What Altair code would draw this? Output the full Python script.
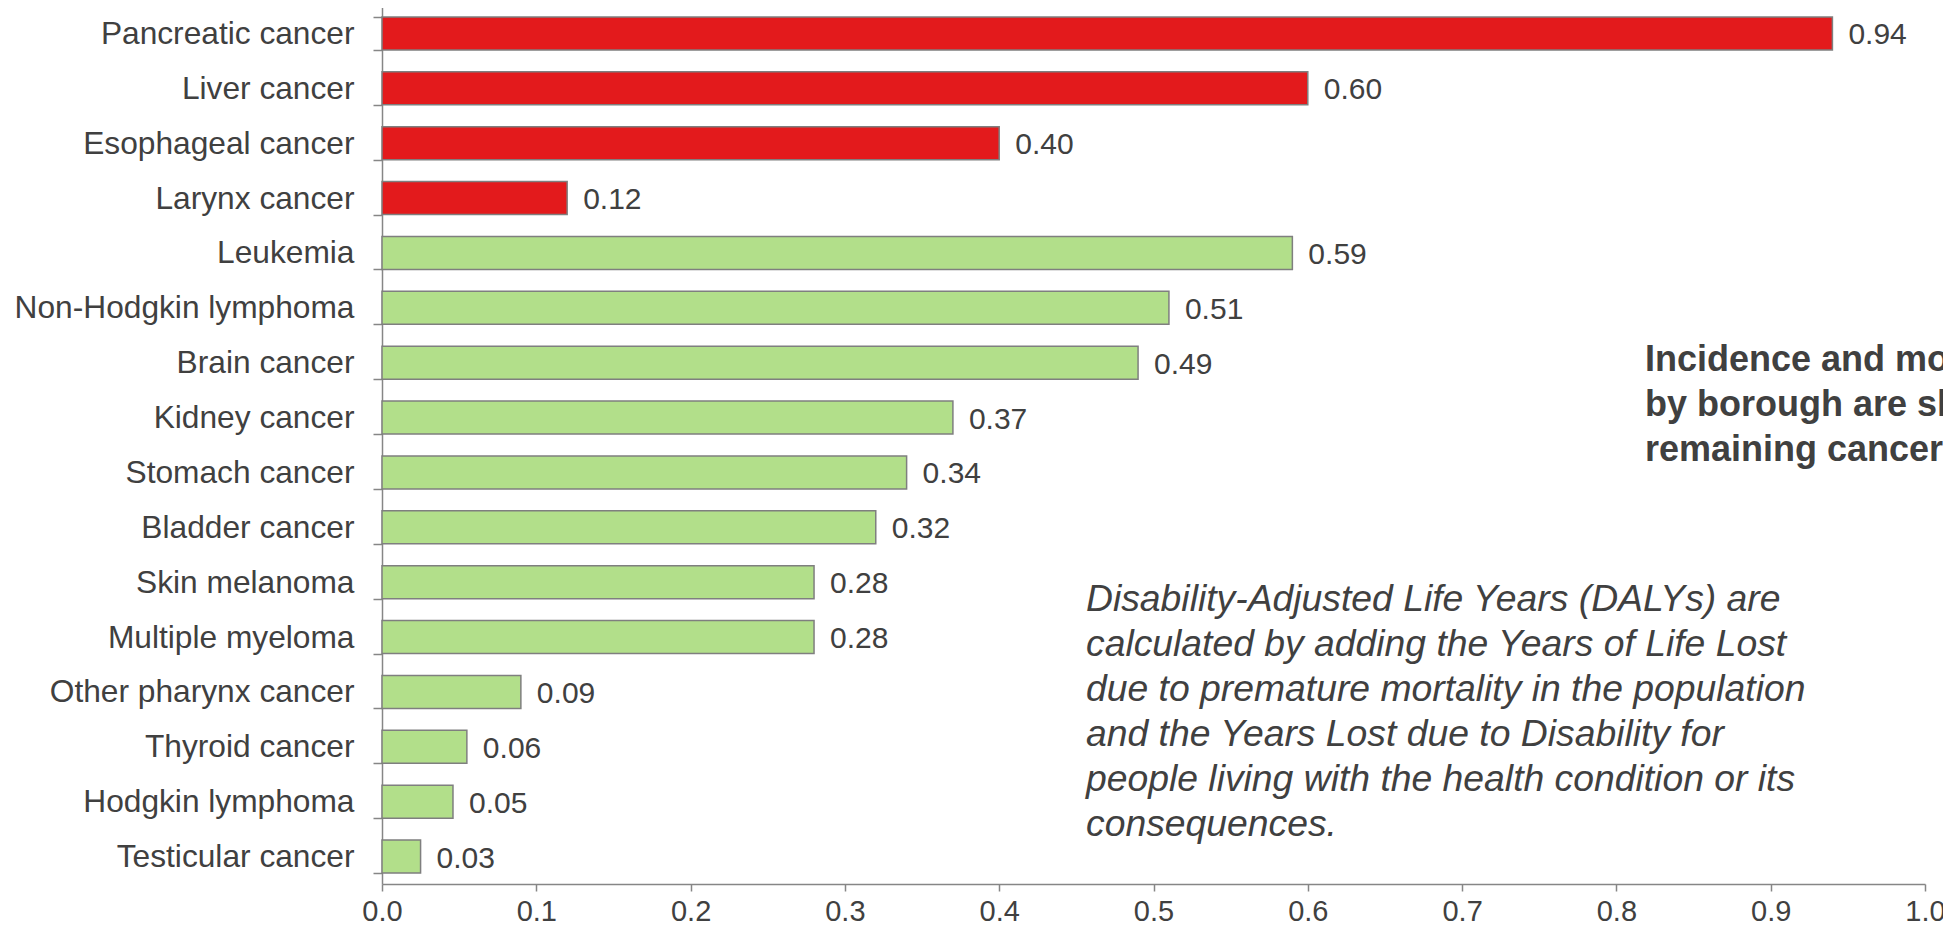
import altair as alt
import pandas as pd

categories = [
    "Pancreatic cancer", "Liver cancer", "Esophageal cancer", "Larynx cancer",
    "Leukemia", "Non-Hodgkin lymphoma", "Brain cancer", "Kidney cancer",
    "Stomach cancer", "Bladder cancer", "Skin melanoma", "Multiple myeloma",
    "Other pharynx cancer", "Thyroid cancer", "Hodgkin lymphoma", "Testicular cancer",
]
values = [0.94, 0.60, 0.40, 0.12, 0.59, 0.51, 0.49, 0.37,
          0.34, 0.32, 0.28, 0.28, 0.09, 0.055, 0.046, 0.025]
value_labels = ["0.94", "0.60", "0.40", "0.12", "0.59", "0.51", "0.49", "0.37",
                "0.34", "0.32", "0.28", "0.28", "0.09", "0.06", "0.05", "0.03"]
groups = ["highlight"] * 4 + ["other"] * 12
x_ticks = [0.0, 0.1, 0.2, 0.3, 0.4, 0.5, 0.6, 0.7, 0.8, 0.9, 1.0]

note_lines = [
    "Disability-Adjusted Life Years (DALYs) are",
    "calculated by adding the Years of Life Lost",
    "due to premature mortality in the population",
    "and the Years Lost due to Disability for",
    "people living with the health condition or its",
    "consequences.",
]
side_lines = [
    "Incidence and mortality rates",
    "by borough are shown for the",
    "remaining cancers.",
]

df = pd.DataFrame({"cancer": categories, "daly": values,
                   "label": value_labels, "group": groups})

FONT = "Liberation Sans"
TXT = "#404040"
AX = "#868686"

y_enc = alt.Y("cancer:N", sort=None, title=None,
              scale=alt.Scale(paddingInner=0.4, paddingOuter=0.2),
              axis=alt.Axis(tickBand="extent", tickSize=9, labelPadding=19,
                            labelFontSize=31.7, labelColor=TXT, labelFont=FONT,
                            labelLimit=500,
                            domainColor=AX, tickColor=AX, domainWidth=1.5,
                            tickWidth=1.5))
x_enc = alt.X("daly:Q", title=None,
              scale=alt.Scale(domain=[0, 1], nice=False),
              axis=alt.Axis(values=x_ticks, format=".1f", grid=False,
                            tickSize=7, labelPadding=6, labelFontSize=29,
                            labelColor=TXT, labelFont=FONT, domainColor=AX,
                            tickColor=AX, domainWidth=1.5, tickWidth=1.5,
                            labelFlush=False))

base = alt.Chart(df)

bars = base.mark_bar(stroke="#7f7f7f", strokeWidth=1.5).encode(
    y=y_enc, x=x_enc,
    color=alt.Color("group:N", legend=None,
                    scale=alt.Scale(domain=["highlight", "other"],
                                    range=["#E31A1C", "#B2DF8A"])),
)

labels = base.mark_text(align="left", baseline="middle", dx=16, dy=2,
                        fontSize=30, font=FONT, color=TXT).encode(
    y=alt.Y("cancer:N", sort=None),
    x="daly:Q",
    text="label:N",
)

one = pd.DataFrame({"k": [0]})
note = alt.Chart(one).mark_text(
    text=note_lines, align="left", baseline="alphabetic", fontSize=37.3,
    lineHeight=45, fontStyle="italic", font=FONT, color=TXT,
).encode(x=alt.value(704), y=alt.value(605))

side = alt.Chart(one).mark_text(
    text=side_lines, align="left", baseline="alphabetic", fontSize=36,
    lineHeight=45, fontWeight="bold", font=FONT, color=TXT,
).encode(x=alt.value(1263), y=alt.value(365))

chart = alt.layer(bars, labels, note, side).properties(
    width=1543, height=878,
    autosize=alt.AutoSizeParams(type="none"),
    padding={"left": 374, "top": -2, "right": 18, "bottom": 47},
).configure_view(stroke=None)

chart.save("out.html", embed_options={"renderer": "svg", "actions": False})
